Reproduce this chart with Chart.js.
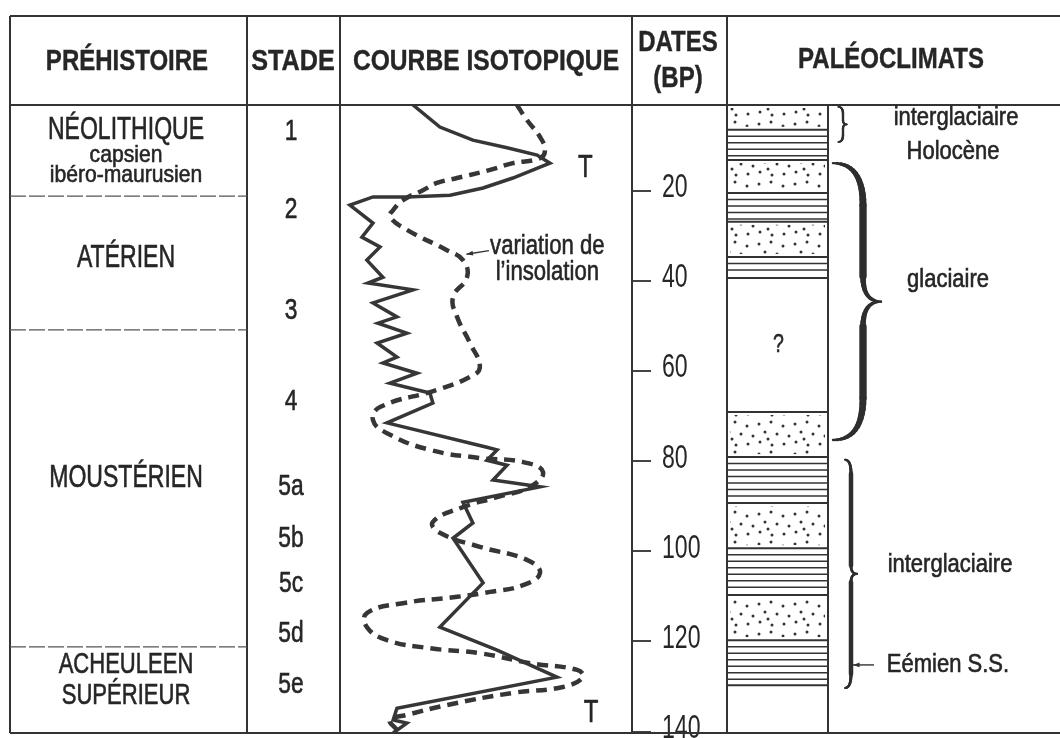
<!DOCTYPE html>
<html><head><meta charset="utf-8">
<script src="https://cdn.jsdelivr.net/npm/chart.js@4/dist/chart.umd.min.js"></script>
<style>html,body{margin:0;padding:0;background:#fff}canvas{display:block}</style>
</head><body>
<canvas id="c" width="1060" height="738"></canvas>
<script>
const FONT = '"Liberation Sans", Arial, sans-serif';

// ---- data ----
// isotope curve (solid): relative value (x) vs age in ka BP
const isoX   = [25.0,34.2,45.5,57.2,67.5,71.9,68.5,59.2,49.0,37.7,22.9,11.3,3.4,11.3,7.5,13.7,9.2,14.7,9.6,25.0,11.3,19.5,13.0,22.9,12.7,19.5,14.7,26.4,17.1,30.8,31.8,16.1,50.3,53.8,50.3,57.2,52.4,68.5,42.1,45.5,38.7,49.0,34.2,53.8,74.3,19.5,18.2,22.9,18.2];
const isoAge = [1.0,5.9,8.8,10.5,12.1,13.9,14.8,17.2,19.4,21.0,21.4,21.4,23.2,27.2,30.3,32.5,35.4,39.2,40.5,42.0,44.9,48.0,49.4,51.6,53.8,56.9,58.2,60.5,62.7,64.9,67.1,71.5,76.9,77.5,79.8,80.9,84.2,85.7,89.1,93.7,97.1,107.0,116.8,121.9,127.9,134.8,137.4,138.1,140.3];
// insolation curve (dashed)
const insX   = [60.6,64.0,68.5,70.2,68.5,59.2,51.4,40.1,33.2,28.4,21.6,18.2,17.1,22.9,36.6,42.1,43.5,38.7,40.1,44.5,47.9,44.5,33.2,13.7,11.3,16.1,30.8,47.9,62.7,69.5,65.1,53.8,42.1,31.8,34.2,47.9,64.0,68.5,62.7,51.4,40.1,21.6,9.2,9.2,16.1,30.8,47.9,65.1,81.2,83.2,76.4,59.2,36.6,22.9,17.1,19.5];
const insAge = [1.0,4.3,8.1,11.0,12.8,13.9,15.4,17.2,18.3,19.9,22.1,24.3,25.8,28.7,33.2,35.4,39.2,43.6,48.0,53.8,59.1,61.3,64.2,68.0,70.9,73.8,77.5,79.3,80.2,82.4,85.7,88.0,90.2,93.5,95.9,99.0,101.9,104.8,107.5,109.0,110.1,111.5,113.7,116.8,119.7,121.5,122.6,124.8,126.3,127.9,130.1,131.4,134.1,136.3,137.4,139.6];
const dateTicks = [20, 40, 60, 80, 100, 120, 140];

const stadeLabels = ['1','2','3','4','5a','5b','5c','5d','5e'];
const stadeAges   = [6.9, 24.3, 46.6, 66.8, 85.6, 97.1, 107.1, 118.3, 129.7];

const prehistLabels = ['NÉOLITHIQUE','capsien','ibéro-maurusien','ATÉRIEN','MOUSTÉRIEN','ACHEULEEN','SUPÉRIEUR'];
const prehistAges   = [6.5, 12.1, 16.5, 34.9, 83.7, 125.2, 132.1];
const prehistBounds = [21.2, 50.9, 121.2];

const paleoStart = [1.0, 6.5, 13.2, 20.5, 26.9, 34.7, 39.4, 69.1, 79.1, 89.3, 99.3, 109.7, 119.7, 129.7];
const paleoEnd   = [6.5, 13.2, 20.5, 26.9, 34.7, 39.4, 69.1, 79.1, 89.3, 99.3, 109.7, 119.7, 129.7, 140.3];
const paleoType  = ['dots','lines','dots','lines','dots','lines','unknown','dots','lines','dots','lines','dots','lines','blank'];

const climateLabels = ['interglaciaire','Holocène','glaciaire','interglaciaire','Eémien S.S.'];
const climateAges   = [4.0, 11.4, 39.8, 103.0, 125.2];
const braceStart = [1.4, 13.9, 79.7];
const braceEnd   = [9.2, 75.3, 130.3];

// ---- drawing helpers ----
const INK = '#262626';
function txt(ctx, s, x, y, size, bold, k, align) {
  ctx.save();
  ctx.fillStyle = INK;
  ctx.strokeStyle = INK;
  ctx.lineWidth = bold ? 0.4 : 0.6;
  ctx.font = (bold ? 'bold ' : '') + size + 'px ' + FONT;
  ctx.textAlign = align || 'center';
  ctx.textBaseline = 'middle';
  ctx.translate(x, y);
  ctx.scale(k || 0.75, 1);
  ctx.fillText(s, 0, 0);
  ctx.strokeText(s, 0, 0);
  ctx.restore();
}
function line(ctx, x1, y1, x2, y2, w, dash, col) {
  ctx.save();
  ctx.strokeStyle = col || '#333';
  ctx.lineWidth = w;
  if (dash) ctx.setLineDash(dash);
  ctx.beginPath(); ctx.moveTo(x1, y1); ctx.lineTo(x2, y2); ctx.stroke();
  ctx.restore();
}
function arrow(ctx, x1, y1, x2, y2) {
  line(ctx, x1, y1, x2, y2, 1.4);
  const a = Math.atan2(y2 - y1, x2 - x1);
  ctx.save(); ctx.fillStyle = '#333';
  ctx.beginPath();
  ctx.moveTo(x2, y2);
  ctx.lineTo(x2 - 7 * Math.cos(a - 0.35), y2 - 7 * Math.sin(a - 0.35));
  ctx.lineTo(x2 - 7 * Math.cos(a + 0.35), y2 - 7 * Math.sin(a + 0.35));
  ctx.closePath(); ctx.fill(); ctx.restore();
}
function quadPts(p0, p1, p2, n, out) {
  for (let i = 1; i <= n; i++) {
    const t = i / n, u = 1 - t;
    out.push([u*u*p0[0] + 2*u*t*p1[0] + t*t*p2[0], u*u*p0[1] + 2*u*t*p1[1] + t*t*p2[1]]);
  }
}
function brace(ctx, x0, xb, xt, yT, yB, r, wMin, wMax) {
  const yM = (yT + yB) / 2;
  const halves = [];
  let h = [[x0, yT]];
  quadPts([x0, yT], [xb, yT], [xb, yT + r], 14, h);
  h.push([xb, yM - r * 0.6]);
  quadPts([xb, yM - r * 0.6], [xb, yM], [xt, yM], 10, h);
  halves.push(h);
  h = [[xt, yM]];
  quadPts([xt, yM], [xb, yM], [xb, yM + r * 0.6], 10, h);
  h.push([xb, yB - r]);
  quadPts([xb, yB - r], [xb, yB], [x0, yB], 14, h);
  halves.push(h);
  ctx.save(); ctx.strokeStyle = '#2e2e2e'; ctx.lineCap = 'round';
  halves.forEach(pts => {
    const L = [0];
    for (let i = 1; i < pts.length; i++) L.push(L[i-1] + Math.hypot(pts[i][0]-pts[i-1][0], pts[i][1]-pts[i-1][1]));
    const tot = L[L.length - 1];
    for (let i = 1; i < pts.length; i++) {
      const t = (L[i] + L[i-1]) / 2 / tot;
      ctx.lineWidth = wMin + (wMax - wMin) * Math.pow(Math.sin(Math.PI * t), 0.8);
      ctx.beginPath(); ctx.moveTo(pts[i-1][0], pts[i-1][1]); ctx.lineTo(pts[i][0], pts[i][1]); ctx.stroke();
    }
  });
  ctx.restore();
}
function dotPattern(ctx) {
  const c = document.createElement('canvas');
  c.width = 36; c.height = 30;
  const g = c.getContext('2d');
  g.fillStyle = '#333';
  const pts = [[3,4],[15,2],[27,6],[9,12],[21,14],[33,16],[4,22],[16,25],[28,24],[12,19]];
  pts.forEach(p => { g.beginPath(); g.arc(p[0], p[1], 1.5, 0, Math.PI * 2); g.fill(); });
  return ctx.createPattern(c, 'repeat');
}

const COL = [10, 247, 340, 632, 727];
const PALEO_R = 828;
const TOP = 16, HEAD = 105, BOT = 733, RIGHT = 1060;
const TICK_LEN = 19, TICK_PAD = 11, TICK_K = 0.68;

const figurePlugin = {
  id: 'figure',
  beforeDraw(chart) {
    // condensed rendering of the date tick labels drawn by the y scale
    const s = chart.scales.y;
    if (!s.__condensed) {
      const orig = s.drawLabels;
      s.drawLabels = function (area) {
        const c = this.ctx, x0 = this.left + TICK_LEN + TICK_PAD;
        c.save(); c.translate(x0, 0); c.scale(TICK_K, 1); c.translate(-x0, 0);
        orig.call(this, area);
        c.restore();
      };
      s.__condensed = true;
    }
  },
  afterDatasetsDraw(chart) {
    const ctx = chart.ctx, xs = chart.scales.x, ys = chart.scales.y;
    txt(ctx, 'T', xs.getPixelForValue(84), ys.getPixelForValue(15), 32, false, 0.75);
    txt(ctx, 'T', xs.getPixelForValue(86), ys.getPixelForValue(135.9), 32, false, 0.75);
    txt(ctx, 'variation de', xs.getPixelForValue(71), ys.getPixelForValue(32.3), 27, false, 0.82);
    txt(ctx, 'l’insolation', xs.getPixelForValue(71), ys.getPixelForValue(38.2), 27, false, 0.82);
    arrow(ctx, xs.getPixelForValue(51), ys.getPixelForValue(33.3), xs.getPixelForValue(43.3), ys.getPixelForValue(34.1));
  },
  afterDraw(chart) {
    const ctx = chart.ctx, ys = chart.scales.y;
    const Y = v => ys.getPixelForValue(v);
    // table frame
    line(ctx, COL[0], TOP, RIGHT, TOP, 2);
    line(ctx, COL[0], HEAD, RIGHT, HEAD, 2);
    line(ctx, COL[0], BOT, RIGHT, BOT, 2);
    COL.forEach(x => line(ctx, x, TOP, x, BOT, 2));
    // header
    txt(ctx, 'PRÉHISTOIRE', 127, 62, 30, true, 0.8);
    txt(ctx, 'STADE', 293, 62, 30, true, 0.84);
    txt(ctx, 'COURBE ISOTOPIQUE', 486, 62, 30, true, 0.82);
    txt(ctx, 'DATES', 678, 43, 30, true, 0.8);
    txt(ctx, '(BP)', 678, 79, 30, true, 0.8);
    txt(ctx, 'PALÉOCLIMATS', 891, 60, 30, true, 0.8);
    // préhistoire
    prehistLabels.forEach((s, i) => {
      const small = s === s.toLowerCase();
      const late = prehistAges[i] > 120;
      txt(ctx, s, 126, Y(prehistAges[i]), small ? 24 : (late ? 29 : 32), false, small ? 0.88 : (late ? 0.76 : 0.72));
    });
    prehistBounds.forEach(v => line(ctx, COL[0], Y(v), COL[1], Y(v), 1.2, [16, 3], '#555'));
    // stades
    stadeLabels.forEach((s, i) => txt(ctx, s, 291, Y(stadeAges[i]), 30, false, 0.76));
    // paléoclimats column
    const pat = dotPattern(ctx);
    paleoType.forEach((t, i) => {
      const y0 = Y(paleoStart[i]), y1 = Y(paleoEnd[i]);
      if (t === 'dots') {
        ctx.save(); ctx.fillStyle = pat;
        ctx.fillRect(COL[4] + 3, y0 + 3, PALEO_R - COL[4] - 6, y1 - y0 - 6);
        ctx.restore();
      } else if (t === 'lines') {
        for (let y = y0 + 6.5; y < y1 - 2; y += 6.5) line(ctx, COL[4], y, PALEO_R, y, 1.5);
      } else if (t === 'unknown') {
        txt(ctx, '?', (COL[4] + PALEO_R) / 2 + 1, (y0 + y1) / 2, 26, false, 0.75);
      }
      if (i > 0) line(ctx, COL[4], y0, PALEO_R, y0, 2);
    });
    line(ctx, PALEO_R, HEAD, PALEO_R, BOT, 2);
    // braces
    brace(ctx, 838, 843, 847, Y(braceStart[0]), Y(braceEnd[0]), 7, 1.4, 2.4);
    brace(ctx, 833, 863, 881, Y(braceStart[1]), Y(braceEnd[1]), 42, 2, 7.5);
    brace(ctx, 845, 851, 857, Y(braceStart[2]), Y(braceEnd[2]), 14, 2, 4.5);
    // climate labels
    const cx = [956, 953, 948, 950, 948];
    climateLabels.forEach((s, i) => txt(ctx, s, cx[i], Y(climateAges[i]), 25, false, 0.88));
    arrow(ctx, 874, Y(climateAges[4]), 853, Y(climateAges[4]));
  }
};

new Chart(document.getElementById('c'), {
  type: 'scatter',
  data: {
    datasets: [
      {
        label: 'courbe isotopique',
        data: isoX.map((x, i) => ({ x, y: isoAge[i] })),
        showLine: true, borderColor: '#363636', borderWidth: 3.5,
        pointRadius: 0, tension: 0, borderJoinStyle: 'miter'
      },
      {
        label: 'variation de l’insolation',
        data: insX.map((x, i) => ({ x, y: insAge[i] })),
        showLine: true, borderColor: '#363636', borderWidth: 4.5,
        borderDash: [11, 7], pointRadius: 0, tension: 0.45
      }
    ]
  },
  options: {
    responsive: false, animation: false, devicePixelRatio: 1,
    layout: { padding: { left: 340, right: 333, top: 105, bottom: 5 } },
    plugins: { legend: { display: false }, tooltip: { enabled: false } },
    scales: {
      x: { type: 'linear', min: 0, max: 100, display: false },
      y: {
        type: 'linear', position: 'right', reverse: true, min: 1, max: 140.3,
        afterBuildTicks: s => { s.ticks = dateTicks.map(v => ({ value: v })); },
        afterFit: s => { s.width = 95; s.paddingTop = 0; s.paddingBottom = 0; },
        grid: { drawOnChartArea: false, drawTicks: true, tickLength: TICK_LEN, color: '#444', lineWidth: 2 },
        border: { display: true, color: '#333', width: 2 },
        ticks: { font: { family: FONT, size: 34 }, color: INK, padding: TICK_PAD, labelOffset: -3 }
      }
    }
  },
  plugins: [figurePlugin]
});
</script>
</body></html>
